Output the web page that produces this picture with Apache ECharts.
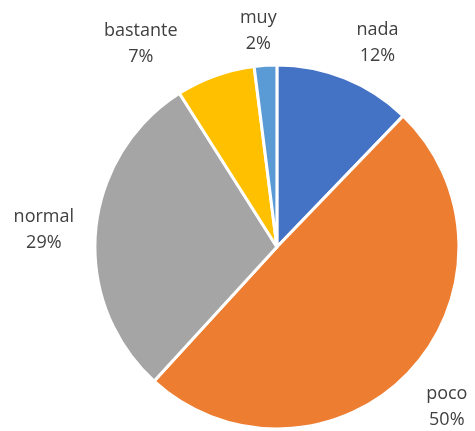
<!DOCTYPE html>
<html>
<head>
<meta charset="utf-8">
<script src="https://cdn.jsdelivr.net/npm/echarts@6/dist/echarts.min.js"></script>
<style>
  html, body { margin: 0; padding: 0; background: #fff; }
  #chart { width: 475px; height: 431px; }
</style>
</head>
<body>
<div id="chart"></div>
<script>
// slices, clockwise from 12 o'clock
const names = ['nada', 'poco', 'normal', 'bastante', 'muy'];
const values = [12.2, 49.6, 29.2, 7.0, 2.0];
const colors = ['#4472C4', '#ED7D31', '#A5A5A5', '#FFC000', '#5B9BD5'];

// how far each label sits outside the rim, plus a small nudge (like Excel's)
const labelGap = [44, 51, 52, 34, 35];
const labelNudge = [[16, 6], [0, 0], [0, 3], [-63, 0], [-5, 0]];

const chart = echarts.init(document.getElementById('chart'), null, { renderer: 'canvas' });

chart.setOption({
  animation: false,
  series: [{
    type: 'pie',
    center: ['58.3%', '57.3%'],
    radius: 182,
    startAngle: 90,
    clockwise: true,
    percentPrecision: 0,
    avoidLabelOverlap: false,
    itemStyle: { borderColor: '#fff', borderWidth: 3 },
    label: {
      position: 'outside',
      formatter: '{b}\n{d}%',
      fontFamily: 'Open Sans',
      fontSize: 18,
      lineHeight: 26,
      color: '#404040'
    },
    labelLine: { show: true, length2: 0, lineStyle: { opacity: 0 } },
    labelLayout: function (p) {
      const pts = p.labelLinePoints;
      const n = labelNudge[p.dataIndex];
      return {
        x: pts[1][0] + n[0],
        y: pts[1][1] + n[1],
        align: 'center',
        verticalAlign: 'middle'
      };
    },
    data: names.map((n, i) => ({
      name: n,
      value: values[i],
      itemStyle: { color: colors[i] },
      labelLine: { length: labelGap[i] }
    }))
  }]
});
</script>
</body>
</html>
